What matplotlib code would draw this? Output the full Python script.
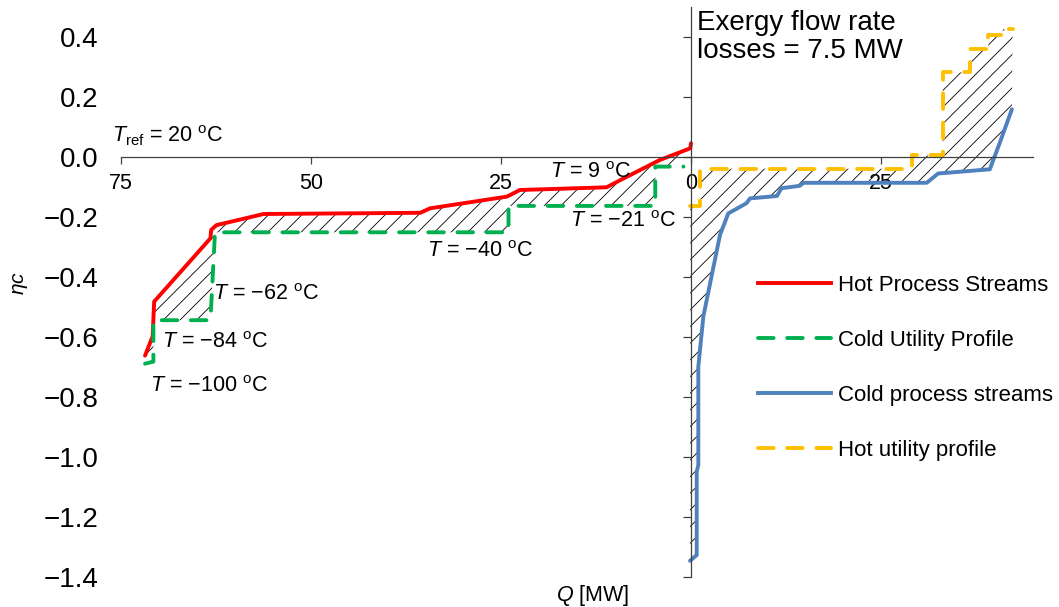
import matplotlib
matplotlib.use('Agg')
import matplotlib.pyplot as plt
from matplotlib.lines import Line2D
import numpy as np

plt.rcParams['font.family'] = 'Liberation Sans'
plt.rcParams['mathtext.fontset'] = 'custom'
plt.rcParams['mathtext.rm'] = 'Liberation Sans'
plt.rcParams['mathtext.it'] = 'Liberation Sans:italic'
plt.rcParams['hatch.linewidth'] = 0.6

# Data (Q in MW, eta_c)
hot_q = [-71.8, -70.9, -70.8, -70.6, -63.2, -63.1, -62.4, -56.2, -35.6, -34.3,
         -24.2, -22.5, -11.1, -9.3, -4.1, -0.1, 0.0]
hot_eta = [-0.663, -0.605, -0.600, -0.483, -0.272, -0.244, -0.228, -0.191, -0.187, -0.172,
           -0.133, -0.111, -0.102, -0.078, -0.011, 0.028, 0.045]

cu_q = [-71.8, -70.7, -70.7, -63.2, -62.6, -24.0, -24.0, -4.7, -4.7, -1.0]
cu_eta = [-0.69, -0.683, -0.545, -0.545, -0.252, -0.252, -0.164, -0.164, -0.033, -0.033]

cold_q = [-0.13, 0.75, 0.75, 0.96, 0.96, 1.62, 3.81, 4.9, 7.3, 7.76, 11.3, 11.9,
          14.3, 14.8, 31.0, 32.5, 39.3, 40.7, 42.2]
cold_eta = [-1.347, -1.328, -1.05, -1.028, -0.70, -0.533, -0.261, -0.189, -0.155, -0.139,
            -0.131, -0.105, -0.097, -0.087, -0.087, -0.056, -0.042, 0.053, 0.158]

hu_q = [-0.1, 1.2, 1.2, 29.0, 29.0, 33.1, 33.1, 36.7, 36.7, 39.1, 39.1, 41.0, 41.0, 42.3]
hu_eta = [-0.163, -0.163, -0.04, -0.04, 0.004, 0.004, 0.281, 0.281, 0.358, 0.358,
          0.405, 0.405, 0.425, 0.425]

x_ticks = [-75, -50, -25, 0, 25]
x_ticklabels = ['75', '50', '25', '0', '25']
y_ticks = [-1.4, -1.2, -1.0, -0.8, -0.6, -0.4, -0.2, 0.0, 0.2, 0.4]

temps = [('$T_{\\rm ref}$ = 20 $^{\\rm o}$C', -76.1, 0.069),
         ('$T$ = 9 $^{\\rm o}$C', -18.5, -0.052),
         ('$T$ = \u221221 $^{\\rm o}$C', -15.9, -0.217),
         ('$T$ = \u221240 $^{\\rm o}$C', -34.7, -0.317),
         ('$T$ = \u221262 $^{\\rm o}$C', -62.9, -0.461),
         ('$T$ = \u221284 $^{\\rm o}$C', -69.6, -0.618),
         ('$T$ = \u2212100 $^{\\rm o}$C', -71.1, -0.767)]

red = '#FF0000'
green = '#00B050'
blue = '#4F81BD'
yellow = '#FFC000'
axcol = '#404040'

fig = plt.figure(figsize=(10.59, 6.07), dpi=100)
ax = fig.add_axes([120.7 / 1059, 30.3 / 607, 912.5 / 1059, 570 / 607])

# hatched loss areas
ax.fill(hot_q + cu_q[::-1], hot_eta + cu_eta[::-1], facecolor='none',
        edgecolor='black', hatch='//', linewidth=0)
ax.fill(hu_q + cold_q[::-1], hu_eta + cold_eta[::-1], facecolor='none',
        edgecolor='black', hatch='//', linewidth=0)

lw = 2.8
ax.plot(hot_q, hot_eta, color=red, lw=lw, solid_capstyle='round', solid_joinstyle='round')
ax.plot(cu_q, cu_eta, color=green, lw=lw, dashes=(4, 3.5), dash_capstyle='round')
ax.plot(cold_q, cold_eta, color=blue, lw=lw, solid_capstyle='round', solid_joinstyle='round')
ax.plot(hu_q, hu_eta, color=yellow, lw=lw, dashes=(4, 3.5), dash_capstyle='round')

ax.set_xlim(-75, 45)
ax.set_ylim(-1.4, 0.5)

for s in ['top', 'right']:
    ax.spines[s].set_visible(False)
ax.spines['left'].set_position(('data', 0))
ax.spines['bottom'].set_position(('data', 0))
for s in ['left', 'bottom']:
    ax.spines[s].set_color(axcol)
    ax.spines[s].set_linewidth(0.9)

ax.set_xticks(x_ticks)
ax.set_xticklabels(x_ticklabels)
ax.set_yticks(y_ticks)
ax.set_yticklabels([f'{v:.1f}'.replace('-', '\u2212') for v in y_ticks])
ax.tick_params(axis='x', direction='out', length=5, width=0.9, color=axcol,
               labelsize=15.5, pad=7)
ax.tick_params(axis='y', direction='out', length=5.8, width=0.9, color=axcol,
               labelsize=20, pad=421)

for txt, q, e in temps:
    ax.text(q, e, txt, fontsize=15.5, ha='left', va='center')

ax.text(0.8, 0.49, 'Exergy flow rate\nlosses = 7.5 MW', fontsize=20,
        ha='left', va='top', linespacing=1.1)

fig.text(20 / 1059, 1 - 283 / 607, r'$\eta c$', fontsize=15, rotation=90,
         ha='center', va='center')
fig.text(593 / 1059, 1 - 595 / 607, r'$Q$ [MW]', fontsize=15.5,
         ha='center', va='center')

handles = [Line2D([], [], color=red, lw=lw),
           Line2D([], [], color=green, lw=lw, dashes=(4, 3.5), dash_capstyle='round'),
           Line2D([], [], color=blue, lw=lw),
           Line2D([], [], color=yellow, lw=lw, dashes=(4, 3.5), dash_capstyle='round')]
labels = ['Hot Process Streams', 'Cold Utility Profile',
          'Cold process streams', 'Hot utility profile']
fig.legend(handles, labels, loc='upper left', bbox_to_anchor=(758 / 1059, 1 - 275 / 607),
           frameon=False, fontsize=16, handlelength=3.3, handletextpad=0.3,
           labelspacing=1.53, borderpad=0, borderaxespad=0)

fig.savefig('out.png', dpi=100)
